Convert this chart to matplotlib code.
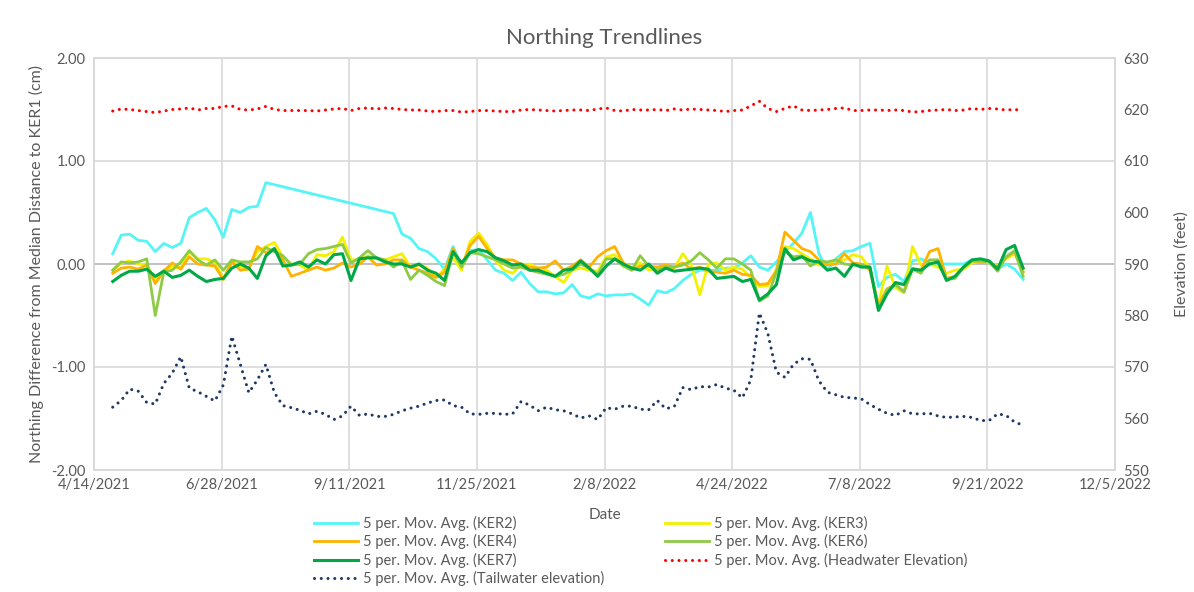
import numpy as np
import pandas as pd
import matplotlib
matplotlib.use("Agg")
import matplotlib.pyplot as plt

plt.rcParams['font.family'] = ['Lato', 'DejaVu Sans']

# sample dates: every 5 days from 4/25/2021 to 10/12/2022
dates = pd.date_range("2021-04-25", periods=108, freq="5D")

ker2 = [0.10, 0.28, 0.29, 0.23, 0.22, 0.12, 0.20, 0.16, 0.20, 0.45,
        0.50, 0.54, 0.43, 0.26, 0.53, 0.50, 0.55, 0.56, 0.79, np.nan,
        np.nan, np.nan, np.nan, np.nan, np.nan, np.nan, np.nan, np.nan, np.nan, np.nan,
        np.nan, np.nan, np.nan, 0.49, 0.29, 0.25, 0.15, 0.12, 0.05, -0.05,
        0.17, -0.02, 0.13, 0.14, 0.04, -0.06, -0.09, -0.16, -0.08, -0.19,
        -0.27, -0.27, -0.29, -0.28, -0.20, -0.31, -0.33, -0.29, -0.31, -0.30,
        -0.30, -0.29, -0.34, -0.40, -0.26, -0.28, -0.24, -0.16, -0.10, -0.06,
        -0.06, -0.06, -0.04, -0.04, 0.01, 0.08, -0.03, -0.06, 0.02, 0.12,
        0.20, 0.30, 0.50, 0.10, -0.06, 0.05, 0.12, 0.13, 0.17, 0.20,
        -0.22, -0.13, -0.10, -0.17, 0.03, 0.05, 0.01, 0.00, 0.00, 0.00,
        0.00, 0.04, 0.04, 0.03, -0.05, 0.00, -0.05, -0.15]

ker3 = [-0.06, 0.01, 0.03, 0.00, -0.01, -0.15, -0.06, -0.03, -0.04, 0.12,
        0.05, 0.05, 0.02, -0.15, 0.03, -0.03, -0.04, 0.12, 0.17, 0.21,
        0.07, 0.00, -0.01, -0.06, 0.09, 0.08, 0.12, 0.26, 0.04, 0.04,
        0.08, 0.05, 0.04, 0.07, 0.10, -0.03, -0.01, -0.04, -0.13, -0.05,
        0.06, -0.06, 0.22, 0.30, 0.19, 0.03, -0.06, -0.09, -0.01, 0.00,
        -0.04, -0.06, -0.12, -0.18, -0.06, -0.04, -0.06, -0.07, 0.07, 0.09,
        0.01, -0.03, 0.01, -0.06, -0.04, -0.03, -0.04, 0.10, -0.01, -0.30,
        0.00, 0.01, -0.06, -0.03, -0.05, -0.13, -0.22, -0.21, -0.05, 0.17,
        0.15, 0.10, 0.05, -0.01, 0.00, 0.04, 0.04, 0.09, 0.07, -0.05,
        -0.40, -0.02, -0.23, -0.28, 0.17, -0.01, 0.00, -0.03, -0.09, -0.06,
        -0.05, 0.01, 0.04, 0.01, -0.02, 0.05, 0.10, -0.07]

ker4 = [-0.09, -0.04, -0.03, -0.05, -0.01, -0.19, -0.07, 0.01, -0.05, 0.07,
        0.00, -0.01, -0.02, -0.15, 0.02, -0.06, -0.05, 0.17, 0.11, 0.15,
        0.04, -0.12, -0.09, -0.06, -0.03, -0.06, -0.04, 0.01, -0.03, 0.00,
        0.07, -0.01, 0.00, 0.04, 0.04, -0.03, -0.06, -0.09, -0.13, -0.08,
        0.15, -0.03, 0.18, 0.27, 0.15, 0.06, 0.04, 0.04, 0.00, -0.03,
        -0.04, -0.03, 0.03, -0.06, -0.02, 0.04, -0.03, 0.07, 0.13, 0.17,
        0.01, -0.06, -0.02, -0.02, -0.03, -0.01, -0.03, 0.01, -0.05, -0.03,
        -0.07, -0.08, -0.09, -0.06, -0.10, -0.11, -0.20, -0.19, -0.07, 0.31,
        0.23, 0.15, 0.12, 0.04, -0.01, 0.00, 0.10, 0.01, 0.00, -0.06,
        -0.40, -0.24, -0.20, -0.27, -0.04, -0.06, 0.12, 0.15, -0.14, -0.12,
        -0.03, 0.03, 0.02, 0.02, -0.03, 0.06, 0.12, -0.08]

ker6 = [-0.06, 0.02, 0.01, 0.02, 0.05, -0.50, -0.08, -0.06, 0.02, 0.13,
        0.04, -0.01, 0.04, -0.06, 0.04, 0.02, 0.02, 0.05, 0.16, 0.12,
        0.08, -0.01, 0.00, 0.10, 0.14, 0.15, 0.17, 0.19, 0.01, 0.06,
        0.13, 0.06, 0.04, -0.03, 0.03, -0.15, -0.06, -0.11, -0.17, -0.21,
        0.12, -0.03, 0.11, 0.10, 0.07, 0.04, 0.00, -0.04, -0.03, -0.06,
        -0.08, -0.10, -0.12, -0.10, -0.06, 0.00, -0.04, -0.10, 0.05, 0.05,
        -0.02, -0.06, 0.08, -0.02, -0.06, -0.03, -0.03, -0.01, 0.03, 0.11,
        0.04, -0.04, 0.05, 0.05, 0.00, -0.06, -0.36, -0.31, -0.08, 0.12,
        0.07, 0.08, -0.02, 0.03, 0.02, 0.04, 0.00, -0.01, -0.01, -0.03,
        -0.45, -0.25, -0.20, -0.27, -0.05, -0.09, 0.04, 0.04, -0.15, -0.14,
        -0.03, 0.03, 0.03, 0.02, -0.07, 0.07, 0.13, -0.12]

ker7 = [-0.17, -0.11, -0.07, -0.07, -0.05, -0.12, -0.07, -0.13, -0.11, -0.06,
        -0.12, -0.17, -0.15, -0.14, -0.04, 0.00, -0.04, -0.14, 0.08, 0.15,
        -0.02, -0.01, 0.02, -0.03, 0.04, 0.00, 0.09, 0.10, -0.16, 0.05,
        0.06, 0.06, 0.02, 0.00, 0.00, -0.03, 0.00, -0.06, -0.09, -0.16,
        0.12, 0.01, 0.11, 0.14, 0.12, 0.06, 0.03, -0.01, 0.00, -0.06,
        -0.06, -0.09, -0.12, -0.06, -0.05, 0.03, -0.04, -0.12, -0.02, 0.05,
        0.00, -0.04, -0.06, 0.00, -0.09, -0.04, -0.07, -0.06, -0.05, -0.04,
        -0.05, -0.14, -0.13, -0.12, -0.17, -0.15, -0.35, -0.29, -0.20, 0.15,
        0.04, 0.07, 0.03, 0.02, -0.06, -0.04, -0.12, 0.00, -0.03, -0.03,
        -0.45, -0.29, -0.18, -0.20, -0.05, -0.06, 0.00, 0.02, -0.16, -0.12,
        -0.03, 0.04, 0.05, 0.03, -0.05, 0.14, 0.18, -0.04]

headwater = [619.7, 620.1, 620.0, 619.8, 619.6, 619.4, 619.7, 620.0, 620.1, 620.3,
             619.9, 620.2, 620.2, 620.6, 620.7, 620.0, 619.9, 620.1, 620.6, 620.0,
             619.8, 619.8, 619.8, 619.8, 619.7, 619.9, 620.1, 620.2, 619.8, 620.2,
             620.3, 620.1, 620.3, 620.2, 620.0, 619.9, 619.9, 619.7, 619.6, 619.8,
             619.8, 619.5, 619.6, 619.8, 619.8, 619.7, 619.6, 619.6, 619.9, 620.0,
             619.9, 619.8, 619.7, 619.8, 619.9, 619.9, 619.8, 620.1, 620.3, 619.8,
             619.7, 620.0, 619.9, 619.9, 620.0, 619.8, 620.1, 619.9, 620.1, 620.0,
             619.9, 619.8, 619.6, 619.8, 619.9, 620.7, 621.6, 620.2, 619.6, 620.2,
             620.7, 619.9, 619.8, 619.9, 620.0, 620.2, 620.3, 619.8, 619.8, 619.9,
             619.9, 619.8, 619.9, 619.8, 619.5, 619.6, 619.8, 619.9, 620.0, 619.8,
             619.9, 620.2, 620.0, 620.2, 620.1, 619.9, 620.0, 619.8]

tailwater = [562.2, 563.5, 565.7, 565.3, 563.1, 562.8, 566.8, 568.8, 572.0, 565.9,
             565.2, 564.3, 563.4, 566.5, 576.0, 570.5, 565.0, 567.5, 570.5, 565.0,
             562.5, 562.1, 561.6, 560.9, 561.4, 560.8, 559.8, 560.5, 562.4, 560.6,
             560.9, 560.4, 560.4, 560.8, 561.5, 562.0, 562.4, 563.0, 563.5, 563.6,
             562.5, 562.2, 560.9, 560.8, 561.0, 561.0, 560.8, 560.9, 563.3, 562.6,
             561.5, 562.2, 561.7, 561.5, 560.9, 560.1, 560.5, 559.8, 562.1, 561.8,
             562.4, 562.4, 561.8, 561.7, 563.5, 561.9, 562.3, 566.0, 565.6, 566.2,
             566.1, 566.6, 565.9, 565.5, 564.0, 567.5, 580.5, 576.5, 569.0, 568.0,
             570.5, 571.6, 571.5, 567.3, 565.1, 564.6, 564.1, 564.0, 563.8, 562.7,
             561.8, 561.0, 560.6, 561.5, 560.9, 560.9, 561.0, 560.5, 560.2, 560.3,
             560.4, 560.2, 559.6, 559.6, 560.9, 560.6, 559.3, 558.7]

x_ticks = pd.date_range("2021-04-14", periods=9, freq="75D")

fig = plt.figure(figsize=(11.94, 5.92), dpi=100)
ax = fig.add_axes([94/1194, 1-470/592, (1115-94)/1194, (470-58)/592])
ax2 = ax.twinx()

grey = '#595959'
ker2 = np.array(ker2)
ok = ~np.isnan(ker2)
ax.plot(dates[ok], ker2[ok], color='#55F5F5', lw=2.0, label='5 per. Mov. Avg. (KER2)')
ax.plot(dates, ker3, color='#F2F200', lw=2.0, label='5 per. Mov. Avg. (KER3)')
ax.plot(dates, ker4, color='#FFB300', lw=2.0, label='5 per. Mov. Avg. (KER4)')
ax.plot(dates, ker6, color='#8DCB45', lw=2.0, label='5 per. Mov. Avg. (KER6)')
ax.plot(dates, ker7, color='#00A846', lw=2.2, label='5 per. Mov. Avg. (KER7)')
ax2.plot(dates, headwater, color='#FF0000', lw=2.2, ls=(0, (0.01, 2.2)),
         dash_capstyle='round', label='5 per. Mov. Avg. (Headwater Elevation)')
ax2.plot(dates, tailwater, color='#203864', lw=2.2, ls=(0, (0.01, 2.2)),
         dash_capstyle='round', label='5 per. Mov. Avg. (Tailwater elevation)')

ax.set_xlim(x_ticks[0], x_ticks[-1])
ax.set_ylim(-2, 2)
ax2.set_ylim(550, 630)
ax.set_yticks([2, 1, 0, -1, -2])
ax.set_yticklabels(['2.00', '1.00', '0.00', '-1.00', '-2.00'])
ax2.set_yticks(range(550, 631, 10))
ax.set_xticks(x_ticks)
ax.set_xticklabels([f"{d.month}/{d.day}/{d.year}" for d in x_ticks])

ax.grid(True, color='#d9d9d9', lw=1.2)
ax.set_axisbelow(True)
ax.axhline(0, color='#bfbfbf', lw=1.3, zorder=1)
for a in (ax, ax2):
    for s in a.spines.values():
        s.set_color('#d9d9d9')
        s.set_linewidth(1.2)
    a.tick_params(length=0, labelsize=10.5, labelcolor=grey, pad=6)

ax.set_title('Northing Trendlines', fontsize=16, color=grey, pad=10)
ax.set_xlabel('Date', fontsize=11, color=grey, labelpad=11)
ax.set_ylabel('Northing Difference from Median Distance to KER1 (cm)', fontsize=11.5,
              color=grey, labelpad=5)
ax2.set_ylabel('Elevation (feet)', fontsize=11.5, color=grey, labelpad=18)

h1, l1 = ax.get_legend_handles_labels()
h2, l2 = ax2.get_legend_handles_labels()
hd = dict(zip(l1 + l2, h1 + h2))
order = ['5 per. Mov. Avg. (KER2)', '5 per. Mov. Avg. (KER4)', '5 per. Mov. Avg. (KER7)',
         '5 per. Mov. Avg. (Tailwater elevation)',
         '5 per. Mov. Avg. (KER3)', '5 per. Mov. Avg. (KER6)',
         '5 per. Mov. Avg. (Headwater Elevation)']
leg = fig.legend([hd[k] for k in order], order, ncol=2, frameon=False,
                 loc='upper left', bbox_to_anchor=(301/1194, 1-503/592),
                 fontsize=10.5, labelcolor=grey, handlelength=3.0,
                 columnspacing=4.2, labelspacing=0.22, handletextpad=0.35)

fig.savefig('out.png', dpi=100)
